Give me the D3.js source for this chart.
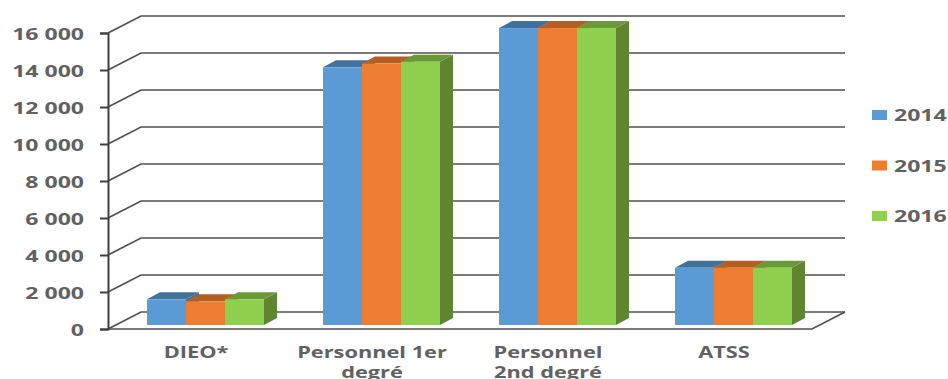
<!DOCTYPE html>
<html>
<head>
<meta charset="utf-8">
<script src="https://cdn.jsdelivr.net/npm/d3@7"></script>
<style>
	html, body { margin: 0; padding: 0; background: #fff; overflow: hidden; }
	svg { display: block; }
	text { font-family: "Open Sans", sans-serif; font-weight: 700; font-size: 16px; fill: #616161; }
</style>
</head>
<body>
<svg id="chart" width="948" height="379"></svg>
<script>
var categories = [["DIEO*"], ["Personnel 1er", "degré"], ["Personnel", "2nd degré"], ["ATSS"]];
var years = ["2014", "2015", "2016"];
var values2014 = [1390, 13930, 16050, 3100];
var values2015 = [1280, 14130, 16050, 3100];
var values2016 = [1390, 14230, 16050, 3100];
var tickValues = [0, 2000, 4000, 6000, 8000, 10000, 12000, 14000, 16000];

var seriesValues = [values2014, values2015, values2016];
var frontColors = ["#5b9bd5", "#ed7d31", "#8fd14f"];
var topColors = ["#41719c", "#b55e22", "#6a9a38"];
var sideColors = ["#41719c", "#b55e22", "#5f8530"];

var svg = d3.select("#chart");

// oblique offset of the back wall and of the bars' depth
var wallDx = 33, wallDy = -17;
var depthDx = 13, depthDy = -7;
var barShiftX = 9.5, barShiftY = -4;

var yScale = d3.scaleLinear().domain([0, 16000]).range([329, 33]);
var xScale = d3.scaleBand().domain(d3.range(categories.length)).range([108, 812]);
var barScale = d3.scaleBand().domain(d3.range(years.length)).range([0, 117]);

// horizontally widened labels
function widen(sel, k) {
	sel.each(function() {
		var len = this.getComputedTextLength();
		d3.select(this).attr("textLength", len * k).attr("lengthAdjust", "spacingAndGlyphs");
	});
}

// Gridlines on the wall and on the side
var x0 = xScale.range()[0], x1 = xScale.range()[1];
svg.selectAll("path.grid")
	.data(tickValues)
	.enter()
	.append("path")
		.attr("class", "grid")
		.attr("fill", "none")
		.attr("stroke", "#505050")
		.attr("stroke-width", 1.7)
		.attr("d", function(d) {
			var y = yScale(d);
			return "M" + x0 + "," + y + "L" + (x0 + wallDx) + "," + (y + wallDy) + "L" + (x1 + wallDx) + "," + (y + wallDy);
		});

// Floor edge
svg.append("path")
	.attr("fill", "none")
	.attr("stroke", "#505050")
	.attr("stroke-width", 1.7)
	.attr("d", "M" + x0 + "," + yScale(0) + "L" + x1 + "," + yScale(0) + "L" + (x1 + wallDx) + "," + (yScale(0) + wallDy));

// Y Axis
var yAxis = d3.axisLeft(yScale)
	.tickValues(tickValues)
	.tickSize(8)
	.tickFormat(function(d) { return d3.format(",")(d).replace(",", " "); });

var axisG = svg.append("g")
	.attr("transform", "translate(" + x0 + ",0)")
	.call(yAxis);

axisG.attr("font-family", null).attr("font-size", null);
axisG.select(".domain").attr("stroke", "#404040").attr("stroke-width", 2);
axisG.selectAll(".tick line").attr("stroke", "#404040").attr("stroke-width", 2);
axisG.selectAll(".tick text")
	.attr("x", -24)
	.attr("y", 1)
	.call(widen, 1.44);

// Bars, one 3d box per year and category
seriesValues.forEach(function(values, s) {
	var box = svg.append("g").selectAll("g")
		.data(values)
		.enter()
		.append("g");

	function left(i) { return xScale(i) + (xScale.bandwidth() - barScale.step() * years.length) / 2 + barShiftX + barScale(s); }
	function right(i) { return left(i) + barScale.bandwidth(); }
	function top(d) { return yScale(d) + barShiftY; }
	var base = yScale(0) + barShiftY;

	box.append("path")
		.attr("fill", sideColors[s])
		.attr("d", function(d, i) {
			return "M" + right(i) + "," + top(d)
				+ "l" + depthDx + "," + depthDy
				+ "V" + (base + depthDy)
				+ "L" + right(i) + "," + base + "Z";
		});

	box.append("path")
		.attr("fill", topColors[s])
		.attr("d", function(d, i) {
			return "M" + left(i) + "," + top(d)
				+ "l" + depthDx + "," + depthDy
				+ "H" + (right(i) + depthDx)
				+ "L" + right(i) + "," + top(d) + "Z";
		});

	box.append("rect")
		.attr("x", function(d, i) { return left(i); })
		.attr("y", function(d) { return top(d); })
		.attr("width", barScale.bandwidth())
		.attr("height", function(d) { return base - top(d); })
		.attr("fill", frontColors[s]);
});

// Category labels, wrapped on two lines where needed
var catLabels = svg.selectAll("g.cat")
	.data(categories)
	.enter()
	.append("g")
		.attr("class", "cat");

catLabels.selectAll("text")
	.data(function(d, i) { return d.map(function(line) { return { line: line, i: i }; }); })
	.enter()
	.append("text")
		.attr("text-anchor", "middle")
		.attr("x", function(d) { return xScale(d.i) + xScale.bandwidth() / 2; })
		.attr("y", function(d, j) { return 358 + j * 20; })
		.text(function(d) { return d.line; })
		.call(widen, 1.36);

// Legend
var legendY = d3.scalePoint().domain(years).range([115, 216]);

svg.selectAll("rect.legend")
	.data(years)
	.enter()
	.append("rect")
		.attr("class", "legend")
		.attr("x", 872)
		.attr("y", function(d) { return legendY(d) - 5; })
		.attr("width", 15)
		.attr("height", 10)
		.attr("fill", function(d, i) { return frontColors[i]; });

svg.selectAll("text.legend")
	.data(years)
	.enter()
	.append("text")
		.attr("class", "legend")
		.attr("x", 894)
		.attr("y", function(d) { return legendY(d) + 6; })
		.text(function(d) { return d; })
		.call(widen, 1.44);
</script>
</body>
</html>
